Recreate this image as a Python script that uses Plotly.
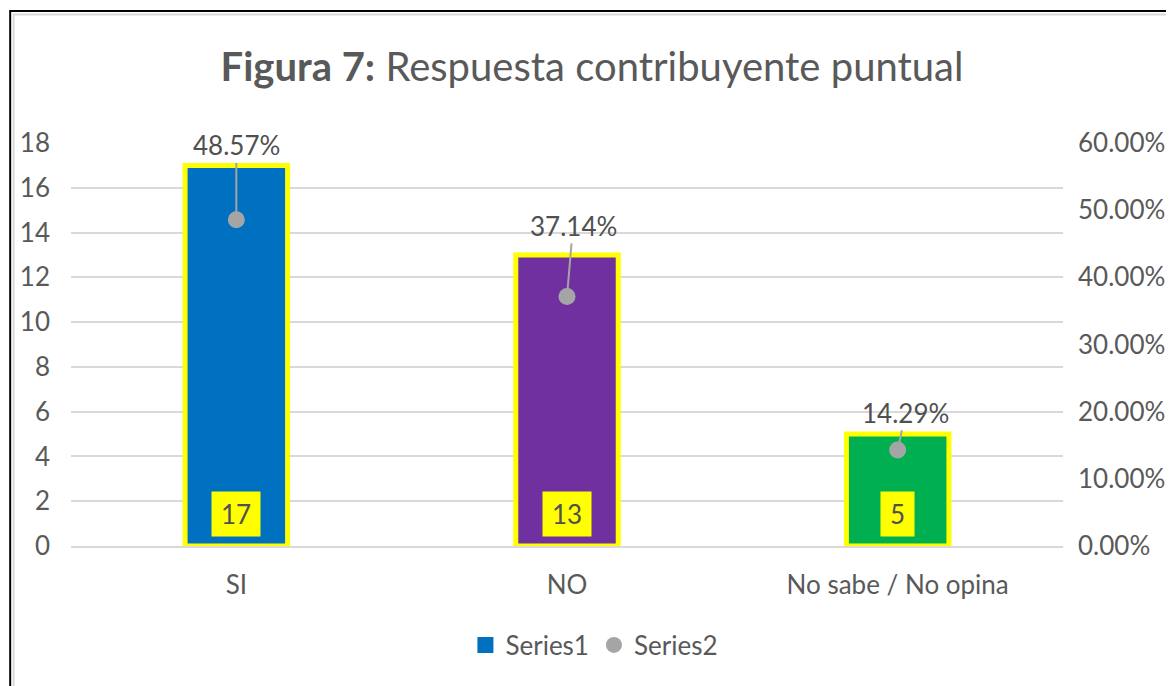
import plotly.graph_objects as go

# ---- data ----
categories = ["SI", "NO", "No sabe / No opina"]
counts = [17, 13, 5]
percents = [0.4857, 0.3714, 0.1429]
bar_colors = ["#0070C0", "#7030A0", "#00B050"]
left_tickvals = list(range(0, 19, 2))
right_tickvals = [0.0, 0.1, 0.2, 0.3, 0.4, 0.5, 0.6]
series_names = ["Series1", "Series2"]

# label placement (offset above bar top, in left-axis units; horizontal px shift)
label_offsets = [0.9, 1.3, 0.95]
label_dx = [0, 6, 8]

FONT = "Lato"
TXT = "#595959"
LBL = "#505050"

OFF = 8  # default page body margin
W, H = 1174, 686
# target pixel positions in the browser window
PL, PR, PT, PB = 68, 1063, 143, 546
ML, MT = PL - OFF, PT - OFF
MR = W - (PR - OFF)
MB = H - (PB - OFF)
PW = PR - PL
PH = PB - PT
Y_MAX, Y2_MAX = 18, 0.6
ratio = Y2_MAX / Y_MAX


def px_x(x):
    return (x - PL) / PW


def px_y(y):
    return (PB - y) / PH


fig = go.Figure()
fig.add_trace(go.Bar(
    x=categories, y=counts, name=series_names[0],
    marker=dict(color=bar_colors, line=dict(color="#FFFF00", width=5)),
    width=0.31, showlegend=False, hoverinfo="skip"))
fig.add_trace(go.Scatter(
    x=categories, y=percents, yaxis="y2", mode="markers", name=series_names[1],
    marker=dict(color="#A5A5A5", size=17), showlegend=False, hoverinfo="skip"))
# legend entries
fig.add_trace(go.Scatter(
    x=[None], y=[None], mode="markers", name=series_names[0],
    marker=dict(color=bar_colors[0], symbol="square", size=16)))
fig.add_trace(go.Scatter(
    x=[None], y=[None], mode="markers", name=series_names[1], yaxis="y2",
    marker=dict(color="#A5A5A5", symbol="circle", size=16)))

annotations = []
for cat, c, p, off, dx in zip(categories, counts, percents, label_offsets, label_dx):
    annotations.append(dict(
        x=cat, y=0, xref="x", yref="y", yanchor="bottom", yshift=9,
        text=str(c), showarrow=False, bgcolor="#FFFF00", borderpad=9,
        height=26, font=dict(family=FONT, size=26, color=LBL)))
    annotations.append(dict(
        x=cat, y=p, xref="x", yref="y2", ax=dx, ay=(c + off) * ratio,
        ayref="y2", text=f"{p * 100:.2f}%", showarrow=True, arrowhead=0,
        arrowwidth=2, arrowcolor="#A5A5A5", standoff=0, startstandoff=0,
        font=dict(family=FONT, size=26, color=LBL)))

shapes = [
    dict(type="rect", xref="paper", yref="paper",
         x0=px_x(7), x1=px_x(W + 40), y0=px_y(H + 40), y1=px_y(11),
         line=dict(color="#000000", width=2), layer="below"),
    dict(type="rect", xref="paper", yref="paper",
         x0=px_x(10.5), x1=px_x(W + 40), y0=px_y(H + 40), y1=px_y(14.5),
         line=dict(color="#D9D9D9", width=2), layer="below"),
]

fig.update_layout(
    width=W, height=H,
    margin=dict(l=ML, r=MR, t=MT, b=MB),
    paper_bgcolor="white", plot_bgcolor="white",
    font=dict(family=FONT, size=26, color=TXT),
    title=dict(text="<b>Figura 7:</b> Respuesta contribuyente puntual",
               x=(592 - OFF) / W, xanchor="center", xref="container",
               y=1 - (67 - OFF) / H, yanchor="middle", yref="container",
               font=dict(family=FONT, size=40, color=TXT)),
    xaxis=dict(type="category", showgrid=False, showline=True,
               linecolor="#D9D9D9", linewidth=2, ticks="",
               ticklabelstandoff=15,
               tickfont=dict(family=FONT, size=26, color=TXT)),
    yaxis=dict(range=[0, Y_MAX], tickvals=left_tickvals, showgrid=True,
               gridcolor="#D9D9D9", gridwidth=2, zeroline=False,
               showline=False, ticks="", ticklabelstandoff=20,
               tickfont=dict(family=FONT, size=26, color=TXT)),
    yaxis2=dict(range=[0, Y2_MAX], tickvals=right_tickvals, tickformat=".2%",
                overlaying="y", side="right", showgrid=False, zeroline=False,
                showline=False, ticks="", ticklabelstandoff=14,
                tickfont=dict(family=FONT, size=26, color=TXT)),
    legend=dict(orientation="h", x=px_x(593), xanchor="center",
                y=px_y(645), yanchor="middle",
                font=dict(family=FONT, size=26, color=TXT),
                itemsizing="trace", itemwidth=30),
    annotations=annotations,
    shapes=shapes,
    showlegend=True,
)

fig.write_html("out.html", config={"displayModeBar": False})
